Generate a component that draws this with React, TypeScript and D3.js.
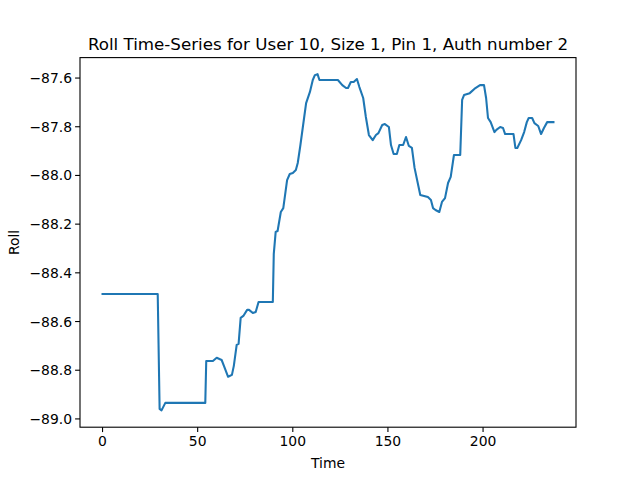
import React from "react";
import * as d3 from "d3";

const times = [0, 29, 30, 31, 33, 54, 54.5, 58, 60, 62.6, 64, 66, 68, 69, 70.5, 71.5, 72.6, 74, 76, 77, 79, 80.5, 82, 89.5, 90, 91, 92, 93.7, 95, 97, 98.4, 100, 101.6, 102.6, 104, 106, 107, 109, 110.5, 111.6, 113, 114, 123.7, 126, 128, 129, 130.5, 132, 133.7, 135, 137, 138.4, 140, 142, 143.7, 145, 147, 148.4, 150.5, 151.6, 153, 154.7, 156, 158, 159.5, 161, 162.6, 164, 166, 167, 169, 171, 172.6, 173.7, 175, 177, 178.4, 180, 181.6, 183, 184.7, 188, 189, 190, 193, 196, 198.4, 200.5, 201.6, 202.6, 204, 206, 207, 209, 210.5, 211.6, 216, 217, 218, 220, 221.6, 223, 224, 225.8, 227, 229, 230.5, 232, 233.7, 235, 237];
const rolls = [-88.487, -88.487, -88.959, -88.965, -88.934, -88.934, -88.762, -88.762, -88.749, -88.758, -88.786, -88.827, -88.819, -88.782, -88.696, -88.692, -88.585, -88.577, -88.552, -88.552, -88.565, -88.561, -88.52, -88.52, -88.322, -88.232, -88.228, -88.15, -88.134, -88.019, -87.994, -87.99, -87.978, -87.949, -87.875, -87.76, -87.703, -87.657, -87.608, -87.588, -87.584, -87.608, -87.608, -87.629, -87.641, -87.641, -87.616, -87.616, -87.604, -87.637, -87.682, -87.76, -87.834, -87.855, -87.834, -87.826, -87.793, -87.789, -87.801, -87.875, -87.912, -87.912, -87.875, -87.875, -87.842, -87.879, -87.887, -87.969, -88.043, -88.08, -88.084, -88.089, -88.101, -88.134, -88.142, -88.15, -88.109, -88.093, -88.031, -88.006, -87.916, -87.916, -87.69, -87.67, -87.662, -87.641, -87.629, -87.629, -87.682, -87.764, -87.781, -87.822, -87.813, -87.801, -87.805, -87.83, -87.83, -87.887, -87.887, -87.855, -87.822, -87.781, -87.764, -87.764, -87.785, -87.797, -87.83, -87.805, -87.781, -87.781, -87.781];
const xTicks = [0, 50, 100, 150, 200];
const yTicks = [-89.0, -88.8, -88.6, -88.4, -88.2, -88.0, -87.8, -87.6];

const W = 640, H = 480;
const L = 80, R = 576, T = 57.6, B = 427.2;
const font = "DejaVu Sans, sans-serif";

export default function App() {
  const x = d3.scaleLinear().domain([-11.85, 248.85]).range([L, R]);
  const y = d3.scaleLinear().domain([-89.034, -87.516]).range([B, T]);
  const pts: [number, number][] = times.map((t, i) => [t, rolls[i]]);
  const line = d3.line<[number, number]>().x(d => x(d[0])).y(d => y(d[1]));
  const fmt = (v: number) => v.toFixed(1).replace("-", "\u2212");
  return (
    <svg width={W} height={H} style={{ position: "absolute", left: 0, top: 0, background: "#fff" }} fontFamily={font}>
      <rect width={W} height={H} fill="#fff" />
      <path d={line(pts)!} fill="none" stroke="#1f77b4" strokeWidth={2.08} strokeLinejoin="round" strokeLinecap="square" />
      <rect x={L} y={T} width={R - L} height={B - T} fill="none" stroke="#000" strokeWidth={1.1} />
      {xTicks.map(t => (
        <g key={t}>
          <line x1={x(t)} x2={x(t)} y1={B} y2={B + 4.9} stroke="#000" strokeWidth={1.1} />
          <text x={x(t)} y={B + 19} textAnchor="middle" fontSize={13.9}>{t}</text>
        </g>
      ))}
      {yTicks.map(t => (
        <g key={t}>
          <line x1={L - 4.9} x2={L} y1={y(t)} y2={y(t)} stroke="#000" strokeWidth={1.1} />
          <text x={L - 8} y={y(t) + 5} textAnchor="end" fontSize={13.9}>{fmt(t)}</text>
        </g>
      ))}
      <text x={(L + R) / 2} y={468} textAnchor="middle" fontSize={13.9}>Time</text>
      <text transform={`translate(19,${(T + B) / 2}) rotate(-90)`} textAnchor="middle" fontSize={13.9}>Roll</text>
      <text x={(L + R) / 2} y={50} textAnchor="middle" fontSize={16.7}>Roll Time-Series for User 10, Size 1, Pin 1, Auth number 2</text>
    </svg>
  );
}
